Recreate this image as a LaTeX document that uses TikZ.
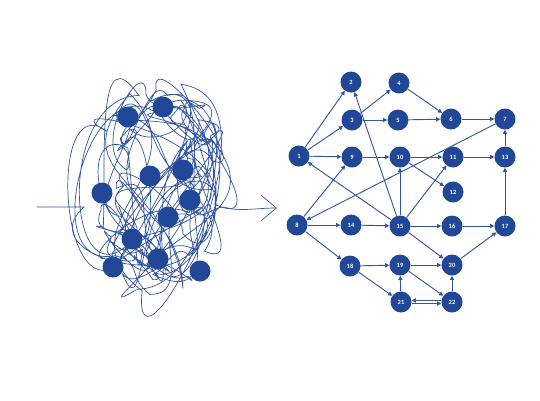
\documentclass[tikz,border=0pt]{standalone}
\usepackage{fontspec}
\setsansfont{Carlito}
\usetikzlibrary{arrows.meta}
\definecolor{netblue}{RGB}{32,72,150}
\definecolor{lineblue}{RGB}{52,86,160}

\begin{document}
\begin{tikzpicture}[x=0.3mm, y=-0.3mm,
  hub/.style={circle, fill=netblue, minimum size=6.3mm, inner sep=0pt,
              text=white, font=\sffamily\bfseries\fontsize{5.5}{6}\selectfont},
  dot/.style={circle, fill=netblue, minimum size=6.3mm, inner sep=0pt},
  arr/.style={-{Triangle[length=3.6pt,width=3.6pt]}, line width=0.8pt, lineblue},
  scrib/.style={line width=0.6pt, lineblue}
]
\useasboundingbox (0,0) rectangle (540,400);

% tangle
\coordinate (start) at (37,207);
\coordinate (blobL) at (84,207);
\coordinate (blobR) at (224,207);
\coordinate (tip)   at (277,208);
\pgfmathsetseed{2718}
\draw[scrib] (start) -- (blobL)
  \foreach \k [evaluate=\k as \a using rnd*360,
               evaluate=\k as \r using 0.55+0.42*rnd,
               evaluate=\k as \px using 158+62*\r*cos(\a),
               evaluate=\k as \py using 186+120*\r*sin(\a),
               evaluate=\k as \o using rnd*360,
               evaluate=\k as \i using rnd*360] in {1,...,90}
  { to[out=\o, in=\i, looseness=1.4] (\px,\py) }
  to[out=-60, in=180] (blobR);
\draw[scrib, -{Straight Barb[length=4.5mm,width=7.5mm]}]
  (blobR) .. controls (240,212) and (255,208) .. (tip);

\node[dot] (d1)  at (128,117) {};
\node[dot] (d2)  at (163,107) {};
\node[dot] (d3)  at (150,176) {};
\node[dot] (d4)  at (183,170) {};
\node[dot] (d5)  at (102,193) {};
\node[dot] (d6)  at (190,200) {};
\node[dot] (d7)  at (168,217) {};
\node[dot] (d8)  at (132,239) {};
\node[dot] (d9)  at (113,267) {};
\node[dot] (d10) at (158,259) {};
\node[dot] (d11) at (200,271) {};

% network
\node[hub] (n1)  at (299,156) {1};
\node[hub] (n2)  at (351,82)  {2};
\node[hub] (n3)  at (352,120) {3};
\node[hub] (n4)  at (399,83)  {4};
\node[hub] (n5)  at (398,120) {5};
\node[hub] (n6)  at (451,119) {6};
\node[hub] (n7)  at (505,119) {7};
\node[hub] (n8)  at (297,225) {8};
\node[hub] (n9)  at (352,157) {9};
\node[hub] (n10) at (400,157) {10};
\node[hub] (n11) at (453,157) {11};
\node[hub] (n12) at (453,192) {12};
\node[hub] (n13) at (505,157) {13};
\node[hub] (n14) at (351,225) {14};
\node[hub] (n15) at (400,226) {15};
\node[hub] (n16) at (452,226) {16};
\node[hub] (n17) at (505,226) {17};
\node[hub] (n18) at (350,266) {18};
\node[hub] (n19) at (400,265) {19};
\node[hub] (n20) at (452,265) {20};
\node[hub] (n21) at (401,302) {21};
\node[hub] (n22) at (452,302) {22};

\draw[arr] (n1) -- (n2);
\draw[arr] (n1) -- (n3);
\draw[arr] (n1) -- (n9);
\draw[arr] (n3) -- (n4);
\draw[arr] (n3) -- (n5);
\draw[arr] (n4) -- (n6);
\draw[arr] (n5) -- (n6);
\draw[arr] (n6) -- (n7);
\draw[arr] (n9) -- (n10);
\draw[arr] (n10) -- (n11);
\draw[arr] (n10) -- (n12);
\draw[arr] (n11) -- (n13);
\draw[arr] (n13) -- (n7);
\draw[arr] (n7) -- (n8);
\draw[arr] (n8) -- (n9);
\draw[arr] (n8) -- (n14);
\draw[arr] (n8) -- (n18);
\draw[arr] (n14) -- (n15);
\draw[arr] (n15) -- (n1);
\draw[arr] (n15) -- (n2);
\draw[arr] (n15) -- (n10);
\draw[arr] (n15) -- (n11);
\draw[arr] (n15) -- (n16);
\draw[arr] (n15) -- (n20);
\draw[arr] (n16) -- (n17);
\draw[arr] (n17) -- (n13);
\draw[arr] (n18) -- (n19);
\draw[arr] (n18) -- (n21);
\draw[arr] (n19) -- (n20);
\draw[arr] (n19) -- (n22);
\draw[arr] (n21) -- (n19);
\draw[arr] (n22) -- (n20);
\draw[arr] (n20) -- (n17);
\draw[arr] ([yshift=1.3pt]n22.west) -- ([yshift=1.3pt]n21.east);
\draw[arr] ([yshift=-1.3pt]n21.east) -- ([yshift=-1.3pt]n22.west);

\end{tikzpicture}
\end{document}
